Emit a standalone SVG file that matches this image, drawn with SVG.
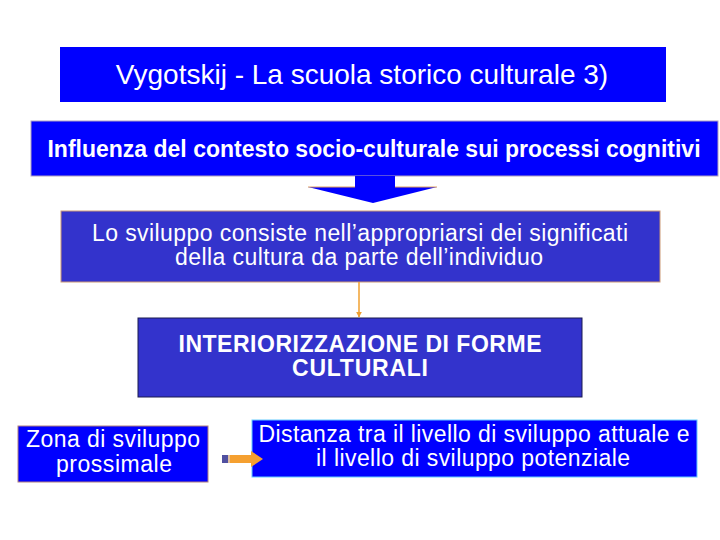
<svg xmlns="http://www.w3.org/2000/svg" width="720" height="540" viewBox="0 0 720 540">
<style>
.t{font-family:"Liberation Sans",Arial,sans-serif;fill:#ffffff;text-anchor:middle}
.b{font-weight:bold}
</style>
<defs>
<marker id="ah" viewBox="0 0 10 10" refX="9" refY="5" markerWidth="4" markerHeight="4" orient="auto">
<path d="M0,0 L10,5 L0,10 z" fill="#F0A030"/>
</marker>
</defs>
<rect width="720" height="540" fill="#ffffff"/>
<g id="title">
<rect x="60" y="47" width="606" height="55" fill="#0000FF"/>
<text class="t" x="362" y="84" font-size="28">Vygotskij - La scuola storico culturale 3)</text>
</g>
<g id="influenza">
<rect x="31" y="121" width="687" height="55" fill="#0000FF" stroke="#B0A0C0" stroke-width="1"/>
<text class="t b" x="374" y="157" font-size="23">Influenza del contesto socio-culturale sui processi cognitivi</text>
</g>
<g id="sviluppo">
<rect x="61" y="211" width="599" height="71" fill="#3333CC" stroke="#CC9977" stroke-width="1"/>
<text class="t" x="360" y="241" font-size="23" textLength="536">Lo sviluppo consiste nell’appropriarsi dei significati</text>
<text class="t" x="359" y="265" font-size="23" textLength="368">della cultura da parte dell’individuo</text>
</g>
<g id="interiorizzazione">
<rect x="138" y="318" width="444" height="79" fill="#3333CC" stroke="#1A1A50" stroke-width="1"/>
<text class="t b" x="360" y="352" font-size="23" textLength="363">INTERIORIZZAZIONE DI FORME</text>
<text class="t b" x="360" y="376" font-size="23" textLength="136">CULTURALI</text>
</g>
<g id="zona">
<rect x="18" y="426" width="190" height="56" fill="#0000FF" stroke="#B08080" stroke-width="1"/>
<text class="t" x="113" y="447" font-size="23" textLength="174">Zona di sviluppo</text>
<text class="t" x="114" y="472" font-size="23" textLength="116">prossimale</text>
</g>
<g id="distanza">
<rect x="252" y="420" width="445" height="57" fill="#0000FF" stroke="#66CCFF" stroke-width="1"/>
<text class="t" x="474" y="442" font-size="23" textLength="431">Distanza tra il livello di sviluppo attuale e</text>
<text class="t" x="473" y="466" font-size="23" textLength="314">il livello di sviluppo potenziale</text>
</g>
<g id="connectors">
<polygon points="355,176 395,176 395,187 437,187 373,203 308,187 355,187" fill="#0000FF"/>
<line x1="308" y1="187" x2="355" y2="187" stroke="#E0A060" stroke-width="1"/>
<line x1="395" y1="187" x2="437" y2="187" stroke="#E0A060" stroke-width="1"/>
<line x1="359" y1="282" x2="359" y2="317" stroke="#F0A030" stroke-width="1.5" marker-end="url(#ah)"/>
<rect x="222" y="455" width="6" height="8" fill="#5050A0"/>
<rect x="228" y="455" width="2" height="8" fill="#E0C0A0"/>
<polygon points="230,455 251,455 251,451 263,459 251,467 251,463 230,463" fill="#F5A030"/>
</g>
</svg>
